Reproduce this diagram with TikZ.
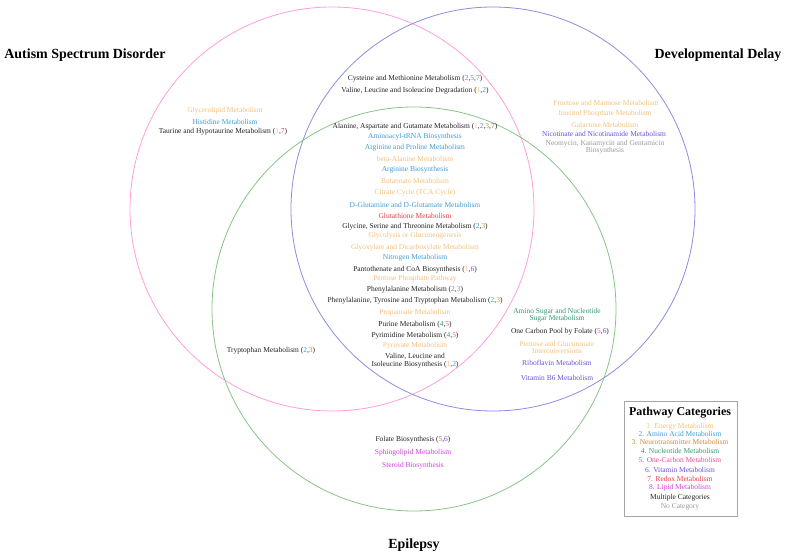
\documentclass[tikz,border=0pt]{standalone}
\usepackage{fontspec}
\setmainfont{Liberation Serif}
\definecolor{cone}{HTML}{F5BF78}
\definecolor{ctwo}{HTML}{3C9CD8}
\definecolor{cthree}{HTML}{C98A3E}
\definecolor{cfour}{HTML}{2F9970}
\definecolor{cfive}{HTML}{F0479B}
\definecolor{csix}{HTML}{6B4FE0}
\definecolor{cseven}{HTML}{EE3B4B}
\definecolor{ceight}{HTML}{CF3FE0}
\definecolor{cmult}{HTML}{222222}
\definecolor{cnone}{HTML}{999999}
\definecolor{pinkc}{HTML}{FF9EDB}
\definecolor{bluec}{HTML}{8C8CE0}
\definecolor{greenc}{HTML}{86C486}
\newcommand{\numA}{\textcolor{cone}{1}}
\newcommand{\numB}{\textcolor{ctwo}{2}}
\newcommand{\numC}{\textcolor{cthree}{3}}
\newcommand{\numD}{\textcolor{cfour}{4}}
\newcommand{\numE}{\textcolor{cfive}{5}}
\newcommand{\numF}{\textcolor{csix}{6}}
\newcommand{\numG}{\textcolor{cseven}{7}}
\begin{document}
\begin{tikzpicture}[x=1bp,y=-1bp,
  t/.style={font=\fontsize{7.5}{7.5}\selectfont, inner sep=0pt, align=center, text=cmult},
  ttl/.style={font=\fontsize{14}{16}\selectfont\bfseries, inner sep=0pt, text=black},
  set/.style={circle, draw, line width=0.8bp, minimum size=404bp, inner sep=0pt},
  legbox/.style={draw=black!35, line width=0.9bp, inner sep=0pt}]
\useasboundingbox (0,0) rectangle (788,558);
% sets
\node[set, draw=pinkc] (asd) at (332,209) {};
\node[set, draw=bluec] (dd) at (493,209) {};
\node[set, draw=greenc] (ep) at (414,309) {};
% titles
\node[ttl] (tasd) at (85,55) {Autism Spectrum Disorder};
\node[ttl] (tdd) at (718,55) {Developmental Delay};
\node[ttl] (tep) at (414,545) {Epilepsy};
% ASD & DD only
\node[t] (p1) at (415,79) {Cysteine and Methionine Metabolism (\numB,\numE,\numG)};
\node[t] (p2) at (415,91) {Valine, Leucine and Isoleucine Degradation (\numA,\numB)};
% ASD only
\node[t, text=cone] (p3) at (225,111) {Glycerolipid Metabolism};
\node[t, text=ctwo] (p4) at (225,122) {Histidine Metabolism};
\node[t] (p5) at (223,132) {Taurine and Hypotaurine Metabolism (\numA,\numG)};
% all three
\node[t] (c1) at (415,127) {Alanine, Aspartate and Gutamate Metabolism (\numA,\numB,\numC,\numG)};
\node[t, text=ctwo] (c2) at (415,137) {Aminoacyl-tRNA Biosynthesis};
\node[t, text=ctwo] (c3) at (415,148) {Arginine and Proline Metabolism};
\node[t, text=cone] (c4) at (415,159) {beta-Alanine Metabolism};
\node[t, text=ctwo] (c5) at (415,170) {Arginine Biosynthesis};
\node[t, text=cone] (c6) at (415,181) {Butanoate Metabolism};
\node[t, text=cone] (c7) at (415,193) {Citrate Cycle (TCA Cycle)};
\node[t, text=ctwo] (c8) at (415,205) {D-Glutamine and D-Glutamate Metabolism};
\node[t, text=cseven] (c9) at (415,216) {Glutathione Metabolism};
\node[t] (c10) at (415,227) {Glycine, Serine and Threonine Metabolism (\numB,\numC)};
\node[t, text=cone] (c11) at (415,236) {Glycolysis or Gluconeogenesis};
\node[t, text=cone] (c12) at (415,248) {Glyoxylate and Dicarboxylate Metabolism};
\node[t, text=ctwo] (c13) at (415,258) {Nitrogen Metabolism};
\node[t] (c14) at (415,270) {Pantothenate and CoA Biosynthesis (\numA,\numF)};
\node[t, text=cone] (c15) at (415,279) {Pentose Phosphate Pathway};
\node[t] (c16) at (415,290) {Phenylalanine Metabolism (\numB,\numC)};
\node[t] (c17) at (415,301) {Phenylalanine, Tyrosine and Tryptophan Metabolism (\numB,\numC)};
\node[t, text=cone] (c18) at (415,313) {Propanoate Metabolism};
\node[t] (c19) at (415,325) {Purine Metabolism (\numD,\numE)};
\node[t] (c20) at (415,336) {Pyrimidine Metabolism (\numD,\numE)};
\node[t, text=cone] (c21) at (415,346) {Pyruvate Metabolism};
\node[t] (c22) at (415,360.5) {Valine, Leucine and\\Isoleucine Biosynthesis (\numA,\numB)};
% ASD & EP
\node[t] (ae1) at (271,351) {Tryptophan Metabolism (\numB,\numC)};
% DD only
\node[t, text=cone] (d1) at (606,103) {Fructose and Mannose Metabolism};
\node[t, text=cone] (d2) at (605,114) {Inositol Phosphate Metabolism};
\node[t, text=cone] (d3) at (605,125) {Galactose Metabolism};
\node[t, text=csix] (d4) at (604,134) {Nicotinate and Nicotinamide Metabolism};
\node[t, text=cnone] (d5) at (605,147) {Neomycin, Kanamycin and Gentamicin\\Biosynthesis};
% DD & EP
\node[t, text=cfour] (de1) at (557,315) {Amino Sugar and Nucleotide\\Sugar Metabolism};
\node[t] (de2) at (560,332) {One Carbon Pool by Folate (\numE,\numF)};
\node[t, text=cone] (de3) at (557,347.5) {Pentose and Glucuronate\\Interconversions};
\node[t, text=csix] (de4) at (557,363) {Riboflavin Metabolism};
\node[t, text=csix] (de5) at (557,378) {Vitamin B6 Metabolism};
% EP only
\node[t] (e1) at (413,440) {Folate Biosynthesis (\numE,\numF)};
\node[t, text=ceight] (e2) at (413,453) {Sphingolipid Metabolism};
\node[t, text=ceight] (e3) at (413,466) {Steroid Biosynthesis};
% legend
\draw[legbox] (624,401) rectangle (737,516);
\node[font=\fontsize{12}{14}\selectfont\bfseries, inner sep=0pt] (lt) at (680,413) {Pathway Categories};
\node[t, text=cone] (l1) at (680,427) {1. Energy Metabolism};
\node[t, text=ctwo] (l2) at (680,434) {2. Amino Acid Metabolism};
\node[t, text=cthree] (l3) at (680,442) {3. Neurotransmitter Metabolism};
\node[t, text=cfour] (l4) at (680,451) {4. Nucleotide Metabolism};
\node[t, text=cfive] (l5) at (680,460) {5. One-Carbon Metabolism};
\node[t, text=csix] (l6) at (680,470) {6. Vitamin Metabolism};
\node[t, text=cseven] (l7) at (680,479) {7. Redox Metabolism};
\node[t, text=ceight] (l8) at (680,488) {8. Lipid Metabolism};
\node[t] (l9) at (680,498) {Multiple Categories};
\node[t, text=cnone] (l10) at (680,507) {No Category};
\end{tikzpicture}
\end{document}
